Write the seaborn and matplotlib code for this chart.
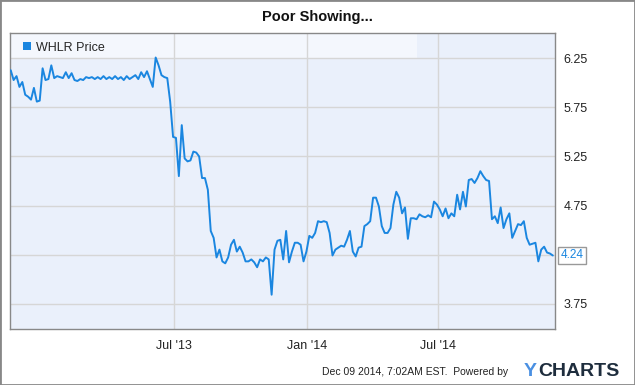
import matplotlib
matplotlib.use("Agg")
import matplotlib.pyplot as plt
from matplotlib.patches import Patch, Rectangle
import seaborn as sns
import pandas as pd

# WHLR closing price, sampled every 4 days from Nov 18 2012
start_date = "2012-11-18"
step_days = 4
prices = [
    6.13, 6.03, 6.07, 5.96, 6.01, 5.88, 5.86, 5.83, 5.95, 5.81,
    5.82, 6.15, 6.03, 6.04, 6.18, 6.05, 6.07, 6.06, 6.05, 6.11,
    6.05, 6.10, 6.03, 6.02, 6.04, 6.03, 6.06, 6.05, 6.06, 6.04,
    6.06, 6.04, 6.07, 6.04, 6.06, 6.04, 6.07, 6.04, 6.06, 6.03,
    6.07, 6.04, 6.06, 6.08, 6.04, 6.11, 6.06, 6.12, 6.04, 5.96,
    6.26, 6.18, 6.08, 6.06, 6.05, 5.81, 5.45, 5.44, 5.05, 5.57,
    5.23, 5.20, 5.21, 5.30, 5.29, 5.25, 5.03, 5.03, 4.91, 4.49,
    4.42, 4.22, 4.30, 4.18, 4.16, 4.22, 4.35, 4.40, 4.28, 4.33,
    4.27, 4.18, 4.18, 4.20, 4.17, 4.12, 4.20, 4.18, 4.22, 4.20,
    3.84, 4.30, 4.39, 4.40, 4.20, 4.49, 4.17, 4.28, 4.37, 4.37,
    4.35, 4.18, 4.28, 4.44, 4.42, 4.47, 4.59, 4.58, 4.59, 4.58,
    4.47, 4.24, 4.30, 4.32, 4.34, 4.33, 4.40, 4.49, 4.28, 4.23,
    4.32, 4.33, 4.54, 4.56, 4.59, 4.83, 4.83, 4.74, 4.54, 4.47,
    4.47, 4.52, 4.76, 4.89, 4.83, 4.67, 4.73, 4.41, 4.62, 4.62,
    4.61, 4.66, 4.64, 4.63, 4.65, 4.63, 4.79, 4.76, 4.71, 4.64,
    4.72, 4.62, 4.67, 4.64, 4.86, 4.71, 4.89, 4.74, 5.01, 5.02,
    4.98, 5.03, 5.10, 5.05, 5.01, 5.00, 4.61, 4.64, 4.57, 4.73,
    4.52, 4.61, 4.67, 4.42, 4.49, 4.56, 4.55, 4.59, 4.42, 4.35,
    4.36, 4.37, 4.18, 4.30, 4.33, 4.27, 4.26, 4.24,
]
dates = pd.date_range(start_date, periods=len(prices), freq=f"{step_days}D")
df = pd.DataFrame({"date": dates, "price": prices})

y_ticks = [3.75, 4.25, 4.75, 5.25, 5.75, 6.25]
y_labels = ["3.75", "", "4.75", "5.25", "5.75", "6.25"]
x_ticks = pd.to_datetime(["2013-07-01", "2014-01-01", "2014-07-01"])
x_labels = ["Jul '13", "Jan '14", "Jul '14"]
last_price = 4.24

sns.set_style("white")
plt.rcParams["font.family"] = ["Liberation Sans", "DejaVu Sans"]

fig = plt.figure(figsize=(6.35, 3.85), dpi=100)
ax = fig.add_axes([10 / 635, 1 - 329 / 385, 545 / 635, 296 / 385])
ax.set_facecolor("#eaf0fb")

# legend band
ax.axhspan(6.25, 6.51, xmin=0, xmax=407 / 545, color="#f4f7fd", zorder=0.5, lw=0)

sns.lineplot(data=df, x="date", y="price", ax=ax, color="#1a86e0", lw=1.4, zorder=3)

ax.set_xlim(pd.Timestamp("2012-11-17"), pd.Timestamp("2014-12-09"))
ax.set_ylim(3.49, 6.51)
ax.set_xticks(x_ticks)
ax.set_xticklabels(x_labels)
ax.set_yticks(y_ticks)
ax.set_yticklabels(y_labels)
ax.yaxis.tick_right()
ax.tick_params(length=0, labelsize=9, colors="#222222", pad=6)
ax.tick_params(axis="x", pad=8)
ax.grid(True, color="#d6d6d6", lw=1)
ax.set_axisbelow(True)
ax.set_xlabel("")
ax.set_ylabel("")
for s in ax.spines.values():
    s.set_visible(True)
    s.set_color("#888888")
    s.set_linewidth(1)

handle = Patch(facecolor="#1a86e0", edgecolor="none", label="WHLR Price")
ax.legend(handles=[handle], loc="upper left", frameon=False, fontsize=9,
          handlelength=0.6, handleheight=0.6, handletextpad=0.45,
          borderaxespad=0.3, bbox_to_anchor=(0.008, 1.0))

ax.annotate(f"{last_price:.2f}", xy=(1.0, last_price), xycoords=("axes fraction", "data"),
            xytext=(4, 0), textcoords="offset points", va="center", ha="left",
            fontsize=8.5, color="#1a86e0",
            bbox=dict(boxstyle="square,pad=0.22", fc="white", ec="#999999", lw=1))

fig.text(0.5, 1 - 17 / 385, "Poor Showing...", ha="center", va="center",
         fontsize=10.5, fontweight="bold", color="#111111")
fig.text(508 / 635, 1 - 372 / 385, "Dec 09 2014, 7:02AM EST.  Powered by",
         ha="right", va="center", fontsize=7.5, color="#222222")
fig.text(524 / 635, 1 - 371 / 385, "Y", ha="left", va="center",
         fontsize=14, fontweight="bold", color="#4a90e2")
fig.text(538 / 635, 1 - 371 / 385, "CHARTS", ha="left", va="center",
         fontsize=14, fontweight="bold", color="#1e2d3d")

fig.patches.append(Rectangle((0, 0), 1, 1, transform=fig.transFigure, fill=False,
                             ec="#888888", lw=2))

fig.savefig("out.png", dpi=100)
